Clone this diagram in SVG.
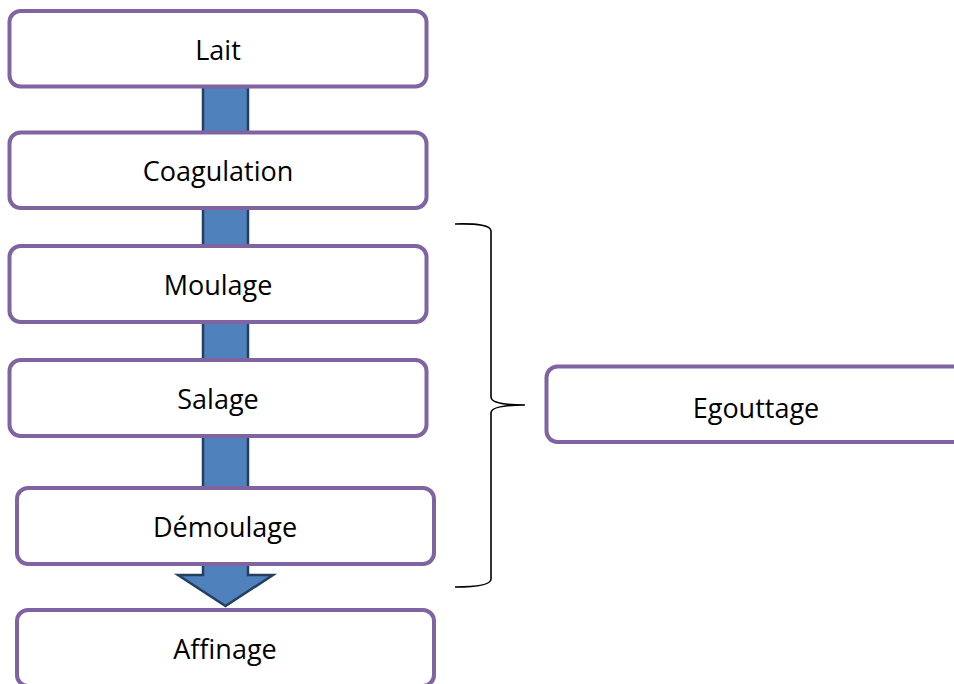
<svg xmlns="http://www.w3.org/2000/svg" width="954" height="684" viewBox="0 0 954 684">
<style>
.box{fill:#fff;stroke:#8064A2;stroke-width:4}
.lbl{font-family:"Open Sans","Liberation Sans",sans-serif;font-size:27px;fill:#000;text-anchor:middle}
</style>
<rect width="954" height="684" fill="#fff"/>
<g id="connectors">
<path id="arrow" d="M203,86 L248,86 L248,575 L273,575 L225.5,606 L178,575 L203,575 Z" fill="#4F81BD" stroke="#243F60" stroke-width="2.5" stroke-linejoin="miter"/>
<path id="brace" d="M455,224 Q491,223 491,231 L491,397 Q491,405 525,405 Q491,405 491,413 L491,579 Q491,587 455,587" fill="none" stroke="#000" stroke-width="1.6"/>
</g>
<g id="lait"><rect class="box" x="9.5" y="11" width="417" height="75.5" rx="11"/><text class="lbl" x="218" y="60">Lait</text></g>
<g id="coagulation"><rect class="box" x="9.5" y="132.5" width="417" height="75.5" rx="11"/><text class="lbl" x="218" y="181">Coagulation</text></g>
<g id="moulage"><rect class="box" x="9.5" y="246" width="417" height="76" rx="11"/><text class="lbl" x="218" y="295">Moulage</text></g>
<g id="salage"><rect class="box" x="9.5" y="360" width="417" height="76" rx="11"/><text class="lbl" x="218" y="409">Salage</text></g>
<g id="demoulage"><rect class="box" x="17" y="488" width="417" height="76" rx="11"/><text class="lbl" x="225" y="537">Démoulage</text></g>
<g id="affinage"><rect class="box" x="17" y="610" width="417" height="76" rx="11"/><text class="lbl" x="225" y="659">Affinage</text></g>
<g id="egouttage"><rect class="box" x="546.5" y="366.5" width="430" height="75.5" rx="11"/><text class="lbl" x="756" y="418">Egouttage</text></g>
</svg>
